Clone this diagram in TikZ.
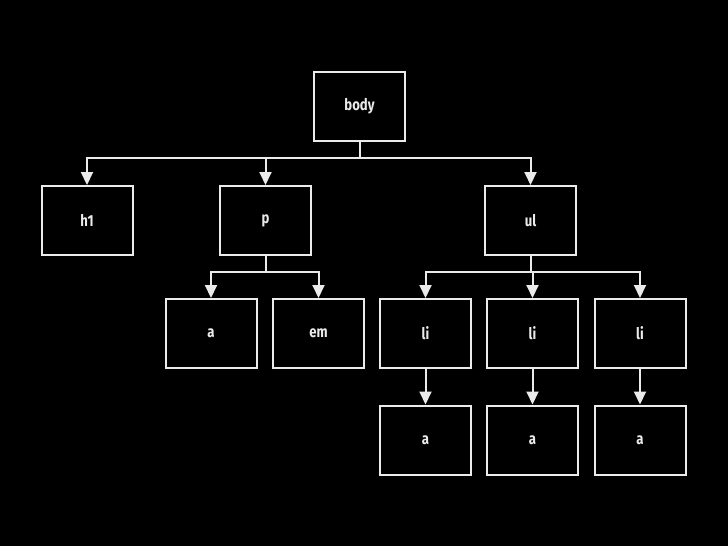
\documentclass[tikz,border=0pt]{standalone}
\usepackage{fontspec}
\setmainfont{Fira Sans}[FakeStretch=0.82]
\usetikzlibrary{arrows.meta,positioning}
\tikzset{
 dt box/.style={draw=white!92!black,line width=2pt,minimum width=91pt,minimum height=69pt,
                inner sep=0pt,text=white!92!black,font=\fontsize{16}{18}\selectfont\bfseries},
 dt edge/.style={draw=white!92!black,line width=2pt,-{Triangle[length=13pt,width=12pt]}}
}
\begin{document}
\begin{tikzpicture}[x=1pt,y=-1pt]
 \fill[black] (0,0) rectangle (728,546);
 \useasboundingbox (0,0) rectangle (728,546);
 \node[dt box] (body) at (359.5,106.5) {body};
 \node[dt box] (h1) at (87,220.5) {h1};
 \node[dt box] (p) at (265.5,220.5) {p};
 \node[dt box] (ul) at (530.5,220.5) {ul};
 \node[dt box] (pa) at (211,333.5) {a};
 \node[dt box] (em) at (318.5,333.5) {em};
 \foreach \i/\x in {1/425.5,2/532.5,3/640}{
   \node[dt box] (li\i) at (\x,333.5) {li};
   \node[dt box] (lia\i) at (\x,440) {a};
   \draw[dt edge] (li\i) -- (lia\i);
   \draw[dt edge] (ul.south) -- ++(0,16) -| (li\i.north);
 }
 % body and p fan out over a bar
 \foreach \c in {h1,p,ul}{\draw[dt edge] (body.south) -- ++(0,16) -| (\c.north);}
 \foreach \c in {pa,em}{\draw[dt edge] (p.south) -- ++(0,16) -| (\c.north);}
\end{tikzpicture}
\end{document}
